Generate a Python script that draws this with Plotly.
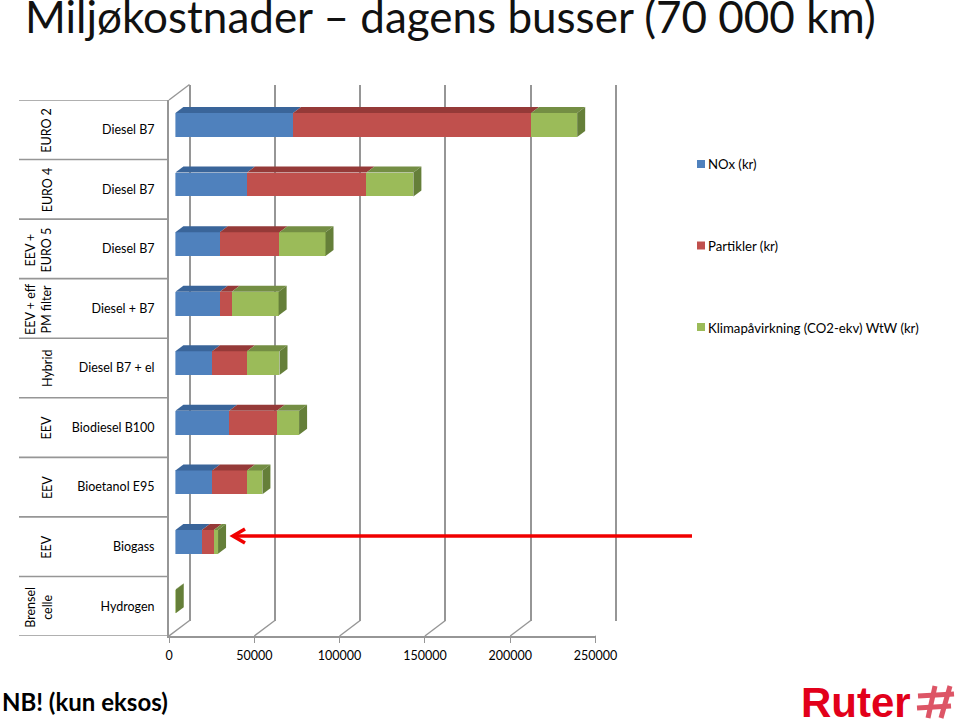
import plotly.graph_objects as go

# ---- data -------------------------------------------------------------
groups = ["EURO 2", "EURO 4", "EEV +<br>EURO 5", "EEV + eff<br>PM filter", "Hybrid",
          "EEV", "EEV", "EEV", "Brensel<br>celle"]
fuels = ["Diesel B7", "Diesel B7", "Diesel B7", "Diesel + B7", "Diesel B7 + el",
         "Biodiesel B100", "Bioetanol E95", "Biogass", "Hydrogen"]
nox = [69000, 42000, 26000, 26000, 21500, 31500, 21500, 15500, 0]
partikler = [139500, 70000, 35000, 7000, 20500, 28000, 20500, 7000, 0]
klima = [27000, 27500, 27000, 27500, 19000, 13000, 9000, 2500, 200]
series_names = ["NOx (kr)", "Partikler (kr)", "Klimapåvirkning (CO2-ekv) WtW (kr)"]
x_ticks = [0, 50000, 100000, 150000, 200000, 250000]

# ---- style ------------------------------------------------------------
W, H = 959, 719
FONT = "Lato"
front = ["#4F81BD", "#C0504D", "#9BBB59"]
top = ["#3A659A", "#953A38", "#748E44"]
side = "#657F39"
grey = "#969696"
X0, X1 = 169.0, 595.5       # front floor, px
Y_TOP, Y_BOT = 100.0, 636.0  # front wall, px
BACK_DX, BACK_DY = 20.5, 15.5
BAR_DX, BAR_DY = 6.4, 4.8
DEPTH_X, DEPTH_Y = 8.0, 6.0
XMAX = x_ticks[-1]
units_per_px = XMAX / (X1 - X0)
rows = len(fuels)
rows_per_px = rows / (Y_BOT - Y_TOP)
BAR_W = 0.4
GRID_PAD = 3  # px of slack so the end gridlines of the back wall are drawn


def xdom(a, b):
    return [a / W, b / W]


def ydom(top_px, bot_px):
    return [1 - bot_px / H, 1 - top_px / H]


fig = go.Figure()
yrange = [rows - 0.5, -0.5]
ypos = list(range(rows))

fig.add_trace(go.Scatter(x=[None], y=[None], xaxis="x", yaxis="y", showlegend=False, hoverinfo="skip"))
fig.add_trace(go.Scatter(x=[None], y=[None], xaxis="x2", yaxis="y2", showlegend=False, hoverinfo="skip"))

values = [nox, partikler, klima]
dx = DEPTH_X * units_per_px
dy = DEPTH_Y * rows_per_px

# top faces of the segments
for s, vals in enumerate(values):
    for i, v in enumerate(vals):
        start = sum(values[k][i] for k in range(s))
        if v <= 0:
            continue
        yt = i - BAR_W / 2
        fig.add_trace(go.Scatter(
            x=[start, start + v, start + v + dx, start + dx, start],
            y=[yt, yt, yt - dy, yt - dy, yt],
            fill="toself", fillcolor=top[s], mode="lines", line=dict(width=0),
            xaxis="x3", yaxis="y3", showlegend=False, hoverinfo="skip"))

# side face at the end of each stack
for i in range(rows):
    end = nox[i] + partikler[i] + klima[i]
    yt, yb = i - BAR_W / 2, i + BAR_W / 2
    fig.add_trace(go.Scatter(
        x=[end, end + dx, end + dx, end, end],
        y=[yt, yt - dy, yb - dy, yb, yt],
        fill="toself", fillcolor=side, mode="lines", line=dict(width=0),
        xaxis="x3", yaxis="y3", showlegend=False, hoverinfo="skip"))

# front faces
for s, vals in enumerate(values):
    fig.add_trace(go.Bar(
        x=vals, y=ypos, orientation="h", width=BAR_W, name=series_names[s],
        marker=dict(color=front[s], line=dict(width=0)),
        xaxis="x3", yaxis="y3", showlegend=False))

# legend entries (text from the legend, swatches placed tight to it below)
for s, name in enumerate(series_names):
    fig.add_trace(go.Scatter(
        x=[None], y=[None], mode="markers", name=name, legendgroup=name,
        marker=dict(symbol="square", size=8, color="rgba(0,0,0,0)", line=dict(width=0)),
        xaxis="x2", yaxis="y2"))

shapes = []
# legend swatches
for s, yc in enumerate([164, 245.5, 327]):
    shapes.append(dict(type="rect", xref="paper", yref="paper", x0=697 / W, x1=705 / W,
                       y0=1 - (yc + 4) / H, y1=1 - (yc - 4) / H, fillcolor=front[s], line=dict(width=0)))
# row dividers on the label side
for i in range(rows + 1):
    shapes.append(dict(type="line", xref="paper", yref="y2", x0=19 / W, x1=X0 / W, y0=i - 0.5, y1=i - 0.5,
                       line=dict(color=grey, width=1.6), layer="below"))
# floor diagonals
for t in x_ticks:
    shapes.append(dict(type="line", xref="x2", yref="paper", x0=t, x1=t + BACK_DX * units_per_px,
                       y0=1 - Y_BOT / H, y1=1 - (Y_BOT - BACK_DY) / H,
                       line=dict(color=grey, width=1.4), layer="below"))
# top diagonal at the left wall
shapes.append(dict(type="line", xref="paper", yref="paper", x0=X0 / W, x1=(X0 + BACK_DX) / W,
                   y0=1 - Y_TOP / H, y1=1 - (Y_TOP - BACK_DY) / H, line=dict(color=grey, width=1.4), layer="below"))
# red arrow
arrow = "#F00000"
shapes.append(dict(type="line", xref="paper", yref="paper", x0=692 / W, x1=233 / W, y0=1 - 536 / H, y1=1 - 536 / H,
                   line=dict(color=arrow, width=3.6)))
shapes.append(dict(type="path", xref="paper", yref="paper",
                   path=f"M {245 / W} {1 - 529 / H} L {233 / W} {1 - 536 / H} L {245 / W} {1 - 543 / H}",
                   line=dict(color=arrow, width=3.6)))
# hash of the logo
for (a, b, c, d) in [(918, 696, 954, 694), (917, 708, 951, 706), (935, 686, 928, 718), (950, 686, 941, 718)]:
    shapes.append(dict(type="line", xref="paper", yref="paper", x0=a / W, y0=1 - b / H, x1=c / W, y1=1 - d / H,
                       line=dict(color="#DD5566", width=5)))

annotations = []
for i, g in enumerate(groups):
    annotations.append(dict(text=g, textangle=-90, xref="paper", yref="y2",
                            x=(47 if "<br>" not in g else 38.5) / W, y=i, yshift=-1, showarrow=False,
                            xanchor="center", yanchor="middle", align="center",
                            font=dict(family=FONT, size=12.5, color="#000000")))
annotations.append(dict(text="<b>NB! (kun eksos)</b>", xref="paper", yref="paper", x=0, y=1 - 701 / H,
                        xanchor="left", yanchor="middle", showarrow=False,
                        font=dict(family=FONT, size=24, color="#000000")))
annotations.append(dict(text="<b>Ruter</b>", xref="paper", yref="paper", x=799 / W, y=1 - 702 / H,
                        xanchor="left", yanchor="middle", showarrow=False,
                        font=dict(family="Liberation Sans", size=42, color="#E2001A")))

hidden = dict(visible=False, showgrid=False, zeroline=False)
fig.update_layout(
    width=W, height=H, margin=dict(l=0, r=0, t=0, b=0, autoexpand=False), autosize=False,
    paper_bgcolor="#FFFFFF", plot_bgcolor="rgba(0,0,0,0)",
    barmode="stack", hovermode=False,
    font=dict(family=FONT, size=13, color="#000000"),
    title=dict(text="Miljøkostnader – dagens busser (70 000 km)", x=25 / W, xanchor="left", xref="paper",
               y=1 - 18 / H, yanchor="middle", yref="container",
               font=dict(family=FONT, size=44, color="#111111")),
    # back wall
    xaxis=dict(domain=xdom(X0 + BACK_DX - GRID_PAD, X1 + BACK_DX + GRID_PAD),
               range=[-GRID_PAD * units_per_px, XMAX + GRID_PAD * units_per_px],
               tickvals=x_ticks, showticklabels=False,
               showgrid=True, gridcolor=grey, gridwidth=2, zeroline=False, showline=False, ticks="", anchor="y"),
    yaxis=dict(domain=ydom(Y_TOP - BACK_DY, Y_BOT - BACK_DY), range=[0, 1], showticklabels=False, showgrid=False,
               zeroline=False, showline=False, ticks="", anchor="x"),
    # labelled front axes
    xaxis2=dict(domain=xdom(X0, X1), range=[0, XMAX], tickvals=x_ticks, ticktext=[str(t) for t in x_ticks],
                showgrid=False, zeroline=False, showline=True, linecolor=grey, linewidth=2,
                ticks="outside", ticklen=5, tickcolor=grey, tickwidth=1.2, anchor="y2", ticklabelstandoff=2,
                tickfont=dict(family=FONT, size=12.5, color="#000000")),
    yaxis2=dict(domain=ydom(Y_TOP, Y_BOT), range=yrange, tickvals=ypos, ticktext=fuels,
                showgrid=False, zeroline=False, showline=True, linecolor=grey, linewidth=2,
                ticks="", ticklabelstandoff=10, anchor="x2",
                tickfont=dict(family=FONT, size=12.5, color="#000000")),
    # bars plane
    xaxis3=dict(domain=xdom(X0 + BAR_DX, X1 + BAR_DX), range=[0, XMAX], anchor="y3", **hidden),
    yaxis3=dict(domain=ydom(Y_TOP - BAR_DY, Y_BOT - BAR_DY), range=yrange, anchor="x3", **hidden),
    legend=dict(x=681 / W, y=1 - 149 / H, xanchor="left", yanchor="top", tracegroupgap=61.5, indentation=-13,
                bgcolor="rgba(0,0,0,0)", borderwidth=0, traceorder="grouped",
                font=dict(family=FONT, size=13.2, color="#000000")),
    shapes=shapes, annotations=annotations,
)

fig.write_html("out.html", config={"displayModeBar": False},
               post_script="document.body.style.margin='0';document.body.style.overflow='hidden';")
